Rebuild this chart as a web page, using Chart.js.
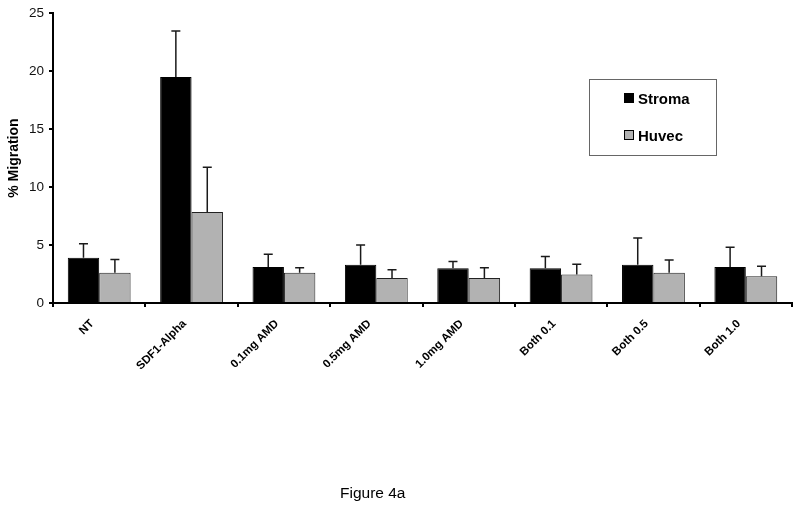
<!DOCTYPE html>
<html>
<head>
<meta charset="utf-8">
<script src="https://cdn.jsdelivr.net/npm/chart.js@4.4.0/dist/chart.umd.min.js"></script>
<style>
	body { margin: 0; background: #ffffff; }
	#wrap { position: relative; width: 800px; height: 508px; }
	#legend {
		position: absolute; left: 589px; top: 79px; width: 126px; height: 75px;
		border: 1px solid #666; font-family: "Liberation Sans", Arial, sans-serif;
		font-weight: bold; font-size: 15px; color: #000;
	}
	.item { position: absolute; left: 34px; height: 18px; line-height: 18px; }
	.sw { display: inline-block; width: 8px; height: 8px; border: 1px solid #000; margin-right: 4px; vertical-align: 1px; }
	#caption {
		position: absolute; left: 340px; top: 484px; font-family: "Liberation Sans", Arial, sans-serif;
		font-size: 15.5px; color: #000;
	}
</style>
</head>
<body>
<div id="wrap">
	<canvas id="chart" width="800" height="508"></canvas>
	<div id="legend"></div>
	<div id="caption">Figure 4a</div>
</div>
<script>
var categories = ["NT", "SDF1-Alpha", "0.1mg AMD", "0.5mg AMD", "1.0mg AMD", "Both 0.1", "Both 0.5", "Both 1.0"]
var seriesNames = ["Stroma", "Huvec"]
var stroma = [3.9, 19.5, 3.1, 3.3, 3.0, 3.0, 3.3, 3.1]
var stromaErr = [1.2, 3.95, 1.1, 1.7, 0.57, 1.0, 2.3, 1.7]
var huvec = [2.6, 7.85, 2.6, 2.15, 2.15, 2.45, 2.6, 2.3]
var huvecErr = [1.15, 3.85, 0.45, 0.72, 0.9, 0.9, 1.1, 0.87]
var yTicks = [0, 5, 10, 15, 20, 25]
var colors = ["#000000", "#b2b2b2"]

// draws the upper error whisker on every bar
var errorBars = {
	id: "errorBars",
	afterDatasetsDraw: function(chart)
	{
		var ctx = chart.ctx
		var y = chart.scales.y
		var errs = [stromaErr, huvecErr]
		ctx.save()
		ctx.strokeStyle = "#1a1a1a"
		ctx.lineWidth = 1.5
		for(var d = 0; d < chart.data.datasets.length; d++)
		{
			var meta = chart.getDatasetMeta(d)
			var vals = chart.data.datasets[d].data
			for(var i = 0; i < meta.data.length; i++)
			{
				var bar = meta.data[i]
				var top = y.getPixelForValue(vals[i] + errs[d][i])
				ctx.beginPath()
				ctx.moveTo(bar.x, bar.y)
				ctx.lineTo(bar.x, top)
				ctx.moveTo(bar.x - 4.5, top)
				ctx.lineTo(bar.x + 4.5, top)
				ctx.stroke()
			}
		}
		ctx.restore()
	}
}

window.onload = function()
{
	var legend = document.getElementById("legend")
	for(var i = 0; i < seriesNames.length; i++)
	{
		var div = document.createElement("div")
		div.className = "item"
		div.style.top = (10 + i * 37) + "px"
		div.innerHTML = '<span class="sw" style="background:' + colors[i] + '"></span>' + seriesNames[i]
		legend.appendChild(div)
	}

	var ctx = document.getElementById("chart")
	var myChart = new Chart(ctx, {
		type: "bar",
		data: {
			labels: categories,
			datasets: [
				{ label: seriesNames[0], data: stroma, backgroundColor: colors[0], borderColor: "#000000", borderWidth: 1 },
				{ label: seriesNames[1], data: huvec, backgroundColor: colors[1], borderColor: "#222222", borderWidth: 1 }
			]
		},
		plugins: [errorBars],
		options: {
			responsive: false,
			animation: false,
			categoryPercentage: 0.68,
			barPercentage: 1.0,
			layout: { padding: { top: 10, right: 8, left: 0, bottom: 0 } },
			plugins: {
				legend: { display: false },
				tooltip: { enabled: false }
			},
			scales: {
				x: {
					grid: { display: true, drawOnChartArea: false, drawTicks: true, tickLength: 4, color: "#000", lineWidth: 2, offset: true },
					border: { display: true, color: "#000", width: 2 },
					ticks: {
						autoSkip: false, minRotation: 45, maxRotation: 45, padding: 10, labelOffset: -7, color: "#000",
						font: { family: "Liberation Sans", size: 11.5, weight: "bold" }
					},
					afterFit: function(scale) { scale.height = 205 }
				},
				y: {
					min: 0,
					max: 25,
					afterBuildTicks: function(scale) { scale.ticks = yTicks.map(function(v) { return { value: v } }) },
					grid: { display: true, drawOnChartArea: false, drawTicks: true, tickLength: 4, color: "#000", lineWidth: 2 },
					border: { display: true, color: "#000", width: 2 },
					ticks: { padding: 5, color: "#111", font: { family: "Liberation Sans", size: 13.5 } },
					title: {
						display: true, text: "% Migration", color: "#000", padding: { top: 6, bottom: 0 },
						font: { family: "Liberation Sans", size: 14, weight: "bold" }
					},
					afterFit: function(scale) { scale.width = 53 }
				}
			}
		}
	})
}
</script>
</body>
</html>
